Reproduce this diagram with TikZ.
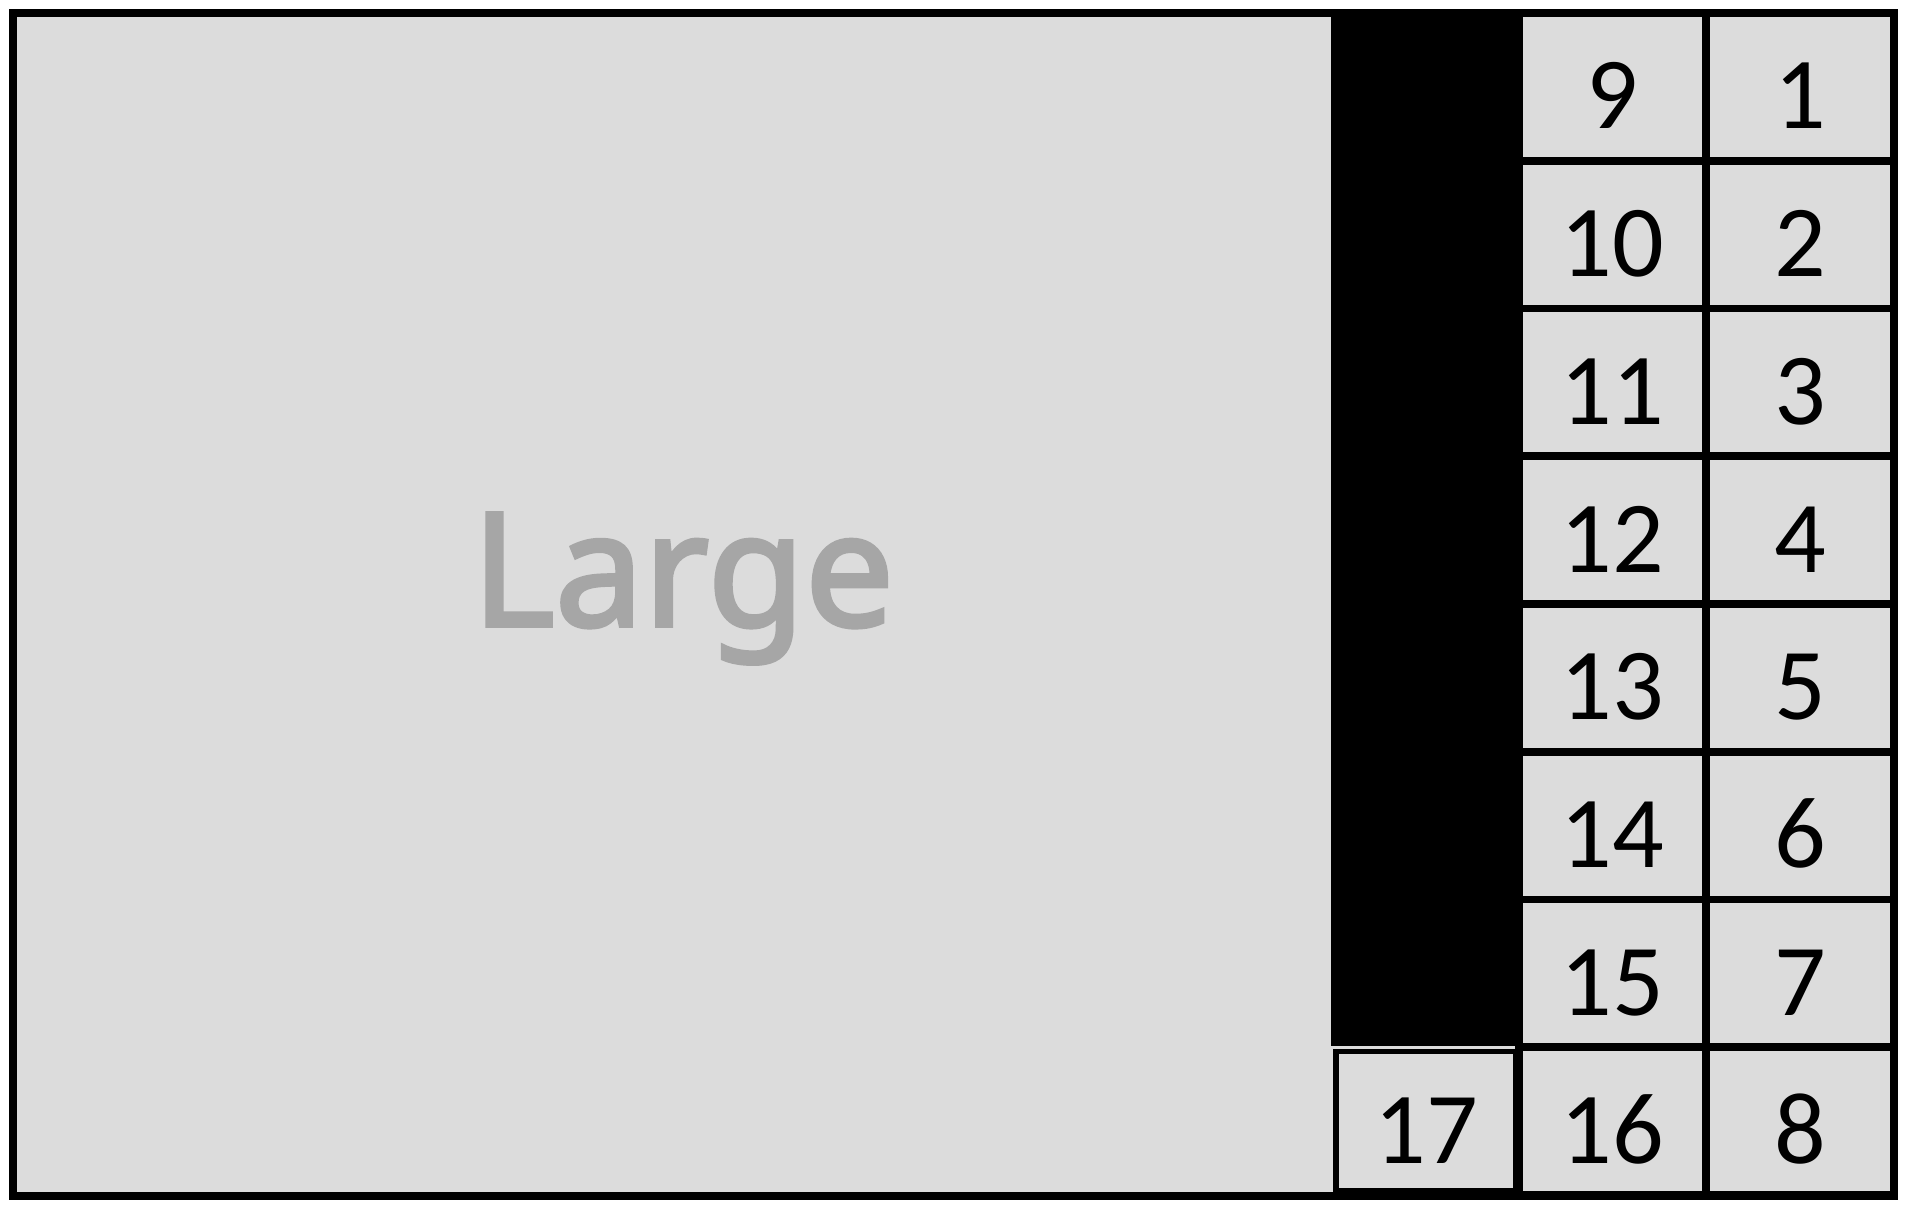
\documentclass[tikz,border=0pt]{standalone}
\usepackage{fontspec}
\setmainfont{Carlito}
\newfontfamily\largefont[FakeBold=2.5]{Noto Sans}
\usepackage{tikz}
\definecolor{cellgray}{HTML}{DCDCDC}
\definecolor{largegray}{HTML}{A6A6A6}
\tikzstyle{cell} = [rectangle, minimum width=1.87cm, minimum height=1.4775cm, inner sep=0pt, text height=0.84cm, text depth=0pt, draw=black, line width=2.2pt, fill=cellgray, font=\fontsize{29}{29}\selectfont]
\tikzstyle{smallcell} = [cell, minimum width=1.8cm, minimum height=1.39cm, line width=1.5pt]
\tikzstyle{bar} = [fill=black]
\tikzstyle{frame} = [draw=black, line width=2.4pt]

\begin{document}
\begin{tikzpicture}[x=0.01cm, y=-0.01cm]
        \useasboundingbox (0,0) rectangle (1908,1208);
        \fill [cellgray] (13,13) rectangle (1894,1196);
        \node (large) [anchor=base, text=largegray, font=\largefont\fontsize{45}{45}\selectfont] at (683,626) {Large};
        \fill [bar] (1331,13) rectangle (1519,1046);
        \foreach \i in {1,...,8} {
            \pgfmathtruncatemacro{\j}{\i+8}
            \node (b\i) [cell] at (1800,{13+147.75*(\i-0.5)}) {\i};
            \node (a\j) [cell] at (1612.5,{13+147.75*(\i-0.5)}) {\j};
        }
        \node (c17) [smallcell] at (1426,1121) {17};
        \draw [frame] (13,13) rectangle (1894,1196);
    \end{tikzpicture}
\end{document}
